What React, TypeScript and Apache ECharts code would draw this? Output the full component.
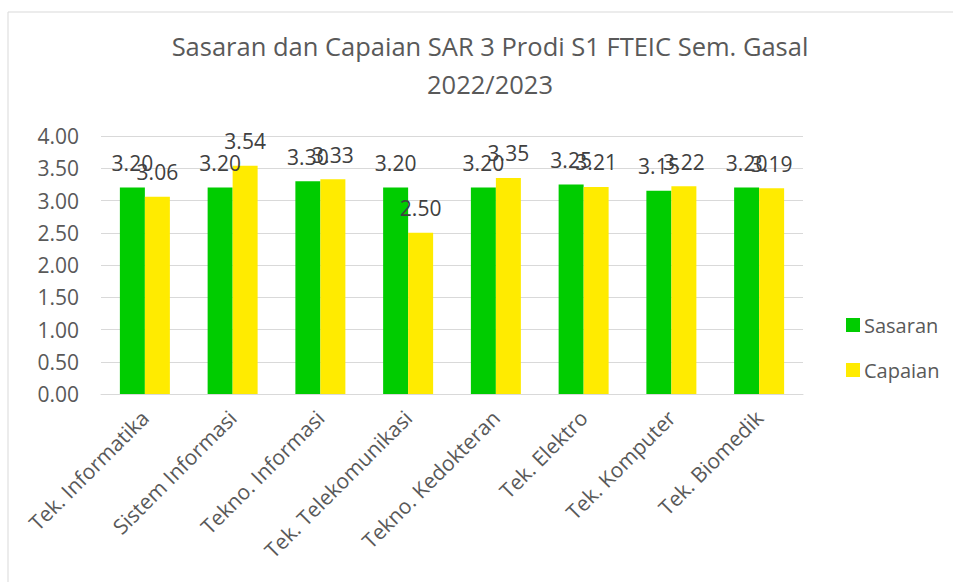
import React, { useEffect, useRef } from "react";
import * as echarts from "echarts";

const categories = [
  "Tek. Informatika",
  "Sistem Informasi",
  "Tekno. Informasi",
  "Tek. Telekomunikasi",
  "Tekno. Kedokteran",
  "Tek. Elektro",
  "Tek. Komputer",
  "Tek. Biomedik",
];
const sasaran = [3.2, 3.2, 3.3, 3.2, 3.2, 3.25, 3.15, 3.2];
const capaian = [3.06, 3.54, 3.33, 2.5, 3.35, 3.21, 3.22, 3.19];
const yTicks = { min: 0, max: 4, interval: 0.5 };

const FONT = "'Open Sans', 'Noto Sans', sans-serif";

export default function App() {
  const ref = useRef<HTMLDivElement>(null);
  useEffect(() => {
    if (!ref.current) return;
    const chart = echarts.init(ref.current, undefined, { renderer: "svg" });
    const labelCfg = {
      show: true,
      position: "top",
      distance: 14,
      fontFamily: FONT,
      fontSize: 21,
      color: "#404040",
      formatter: (p: any) => Number(p.value).toFixed(2),
    };
    chart.setOption({
      animation: false,
      backgroundColor: "#ffffff",
      textStyle: { fontFamily: FONT },
      graphic: [
        {
          type: "rect",
          shape: { x: 8, y: 12, width: 1000, height: 1000 },
          style: { fill: "none", stroke: "#D9D9D9", lineWidth: 1 },
          silent: true,
        },
      ],
      title: {
        text: "Sasaran dan Capaian SAR 3 Prodi S1 FTEIC Sem. Gasal\n2022/2023",
        left: 485,
        textAlign: "center",
        top: 22,
        textStyle: {
          fontFamily: FONT,
          fontSize: 25.5,
          fontWeight: "normal",
          color: "#595959",
          lineHeight: 38,
        },
      },
      legend: {
        orient: "vertical",
        left: 841,
        top: 310,
        itemWidth: 14,
        itemHeight: 14,
        itemGap: 25,
        icon: "rect",
        textStyle: { fontFamily: FONT, fontSize: 20, color: "#595959", padding: [0, 0, 0, -1] },
        data: ["Sasaran", "Capaian"],
      },
      grid: { left: 101, right: 150, top: 136, bottom: 188, containLabel: false },
      xAxis: {
        type: "category",
        data: categories,
        axisLine: { lineStyle: { color: "#D9D9D9", width: 1 } },
        axisTick: { show: false },
        axisLabel: {
          rotate: 45,
          interval: 0,
          fontFamily: FONT,
          fontSize: 21,
          color: "#595959",
          margin: 20,
        },
      },
      yAxis: {
        type: "value",
        min: yTicks.min,
        max: yTicks.max,
        interval: yTicks.interval,
        axisLine: { show: false },
        axisTick: { show: false },
        splitLine: { lineStyle: { color: "#D9D9D9", width: 1 } },
        axisLabel: {
          fontFamily: FONT,
          fontSize: 21,
          color: "#595959",
          margin: 22,
          formatter: (v: number) => v.toFixed(2),
        },
      },
      series: [
        {
          name: "Sasaran",
          type: "bar",
          data: sasaran,
          barWidth: 25,
          barGap: "0%",
          itemStyle: { color: "#00CC00" },
          label: labelCfg,
        },
        {
          name: "Capaian",
          type: "bar",
          data: capaian,
          barWidth: 25,
          barGap: "0%",
          itemStyle: { color: "#FFEB00" },
          label: labelCfg,
        },
      ],
    });
    return () => chart.dispose();
  }, []);
  return (
    <div
      ref={ref}
      style={{ position: "fixed", left: 0, top: 0, width: 953, height: 582 }}
    />
  );
}
